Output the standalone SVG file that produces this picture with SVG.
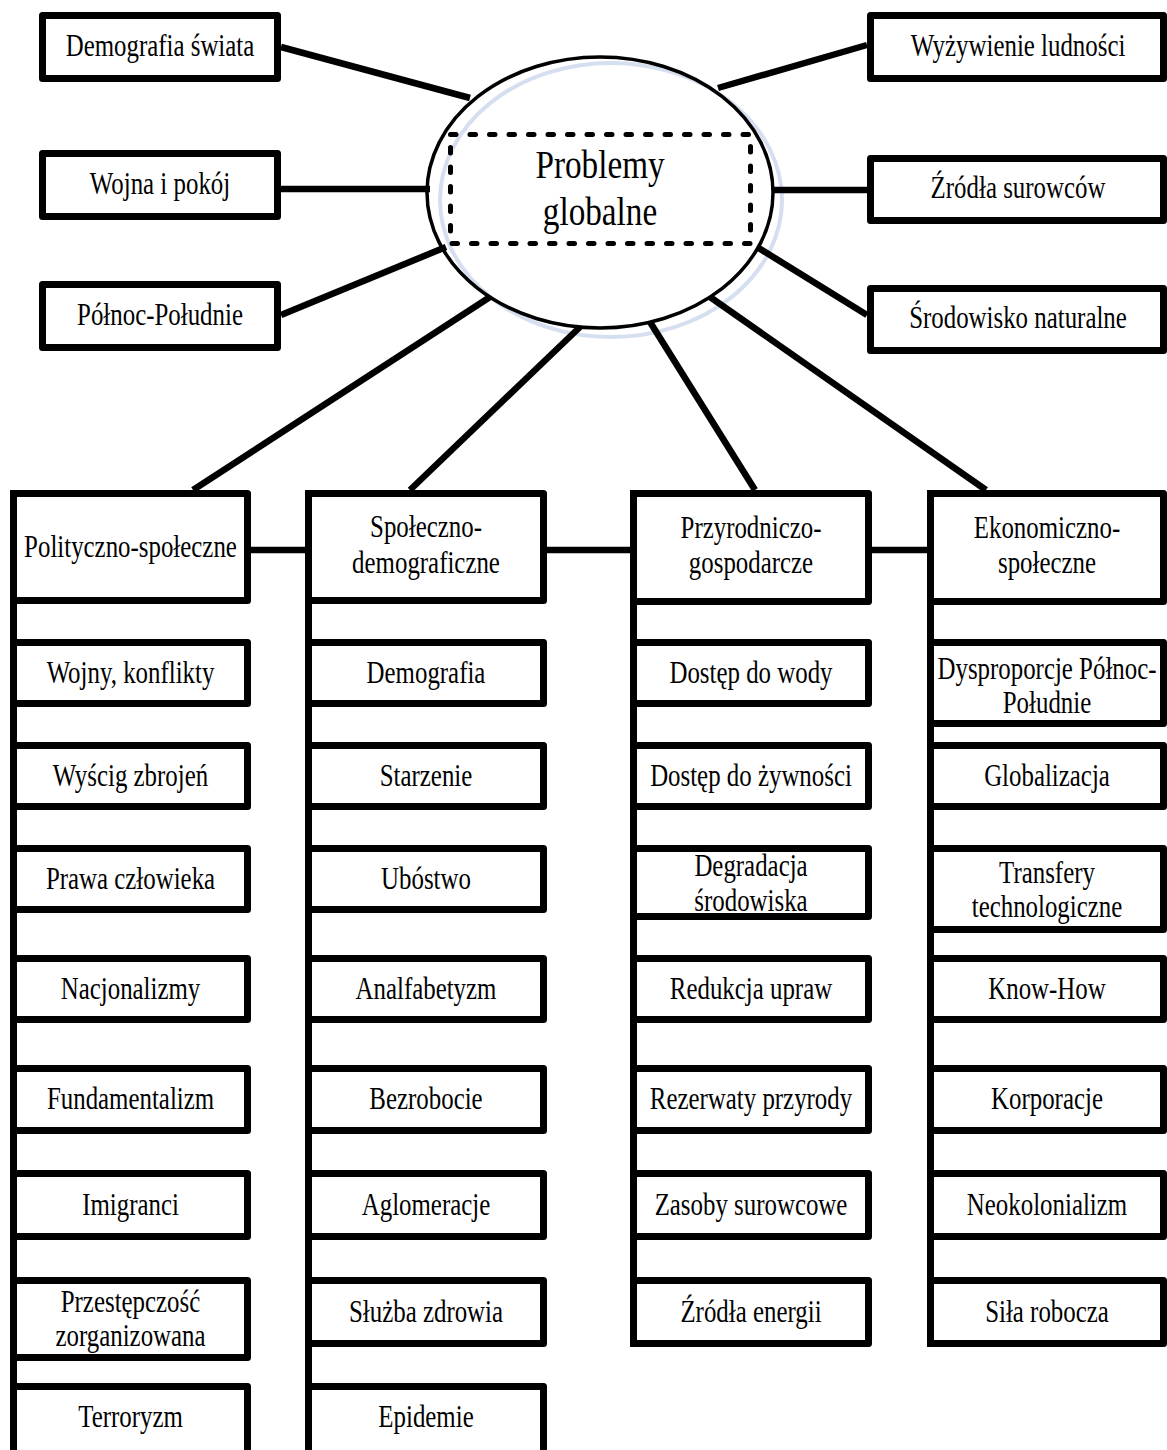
<svg xmlns="http://www.w3.org/2000/svg" width="1167" height="1450" viewBox="0 0 1167 1450">
<style>
.b{fill:#fff;stroke:#000;stroke-width:7;stroke-linejoin:round}
.t{font-family:"Liberation Serif","Times New Roman",serif;font-size:31.5px;fill:#000;text-anchor:middle}
.big{font-family:"Liberation Serif","Times New Roman",serif;font-size:41px;fill:#000;text-anchor:middle}
.c{stroke:#000;stroke-width:6.5;fill:none}
.sp{stroke:#000;stroke-width:7;fill:none}
</style>
<rect width="1167" height="1450" fill="#fff"/>
<ellipse cx="611" cy="200" rx="171" ry="137" fill="none" stroke="#d5dff0" stroke-width="4"/>
<g id="connectors">
<line class="c" x1="281" y1="47" x2="470" y2="98"/>
<line class="c" x1="281" y1="189" x2="430" y2="189"/>
<line class="c" x1="281" y1="315" x2="446" y2="247"/>
<line class="c" x1="867" y1="45" x2="718" y2="88"/>
<line class="c" x1="867" y1="190" x2="773" y2="190"/>
<line class="c" x1="867" y1="315" x2="757" y2="247"/>
<line class="c" x1="490" y1="297" x2="193" y2="490"/>
<line class="c" x1="580" y1="327" x2="410" y2="490"/>
<line class="c" x1="650" y1="322" x2="755" y2="490"/>
<line class="c" x1="710" y1="297" x2="986" y2="490"/>
<line class="c" x1="251" y1="550" x2="305" y2="550"/>
<line class="c" x1="547" y1="550" x2="630" y2="550"/>
<line class="c" x1="872" y1="550" x2="927" y2="550"/>
<line class="sp" x1="13.5" y1="490" x2="13.5" y2="1450"/>
<line class="sp" x1="308.5" y1="490" x2="308.5" y2="1450"/>
<line class="sp" x1="633.5" y1="490" x2="633.5" y2="1347"/>
<line class="sp" x1="930.5" y1="490" x2="930.5" y2="1347"/>
</g>
<g id="center">
<ellipse cx="600" cy="192.5" rx="173" ry="135.5" fill="none" stroke="#000" stroke-width="3.5"/>
<rect x="450.5" y="134.5" width="300" height="109" fill="none" stroke="#000" stroke-width="5" stroke-dasharray="5.5 14" stroke-linecap="round"/>
<text class="big" transform="translate(600,178) scale(0.81,1)">Problemy</text>
<text class="big" transform="translate(600,225) scale(0.81,1)">globalne</text>
</g>
<g id="demografia-swiata"><rect class="b" x="42.5" y="15.5" width="235" height="63"/><text class="t" transform="translate(160,56) scale(0.79,1)">Demografia świata</text></g>
<g id="wojna-i-pokoj"><rect class="b" x="42.5" y="153.5" width="235" height="63"/><text class="t" transform="translate(160,194) scale(0.79,1)">Wojna i pokój</text></g>
<g id="polnoc-poludnie"><rect class="b" x="42.5" y="284.5" width="235" height="63"/><text class="t" transform="translate(160,325) scale(0.79,1)">Północ-Południe</text></g>
<g id="wyzywienie"><rect class="b" x="870.5" y="15.5" width="293" height="63"/><text class="t" transform="translate(1018,56) scale(0.79,1)">Wyżywienie ludności</text></g>
<g id="zrodla-surowcow"><rect class="b" x="870.5" y="158.5" width="293" height="62"/><text class="t" transform="translate(1018,198) scale(0.79,1)">Źródła surowców</text></g>
<g id="srodowisko"><rect class="b" x="870.5" y="288.5" width="293" height="62"/><text class="t" transform="translate(1018,328) scale(0.79,1)">Środowisko naturalne</text></g>

<g id="h1"><rect class="b" x="13.5" y="493.5" width="234" height="107"/><text class="t" transform="translate(130.5,557) scale(0.79,1)">Polityczno-społeczne</text></g>
<g id="h2"><rect class="b" x="308.5" y="493.5" width="235" height="107"/><text class="t" transform="translate(426,537) scale(0.79,1)">Społeczno-</text><text class="t" transform="translate(426,573) scale(0.79,1)">demograficzne</text></g>
<g id="h3"><rect class="b" x="633.5" y="493.5" width="235" height="108"/><text class="t" transform="translate(751,538) scale(0.79,1)">Przyrodniczo-</text><text class="t" transform="translate(751,573) scale(0.79,1)">gospodarcze</text></g>
<g id="h4"><rect class="b" x="930.5" y="493.5" width="233" height="108"/><text class="t" transform="translate(1047,538) scale(0.79,1)">Ekonomiczno-</text><text class="t" transform="translate(1047,573) scale(0.79,1)">społeczne</text></g>

<g id="c1-1"><rect class="b" x="13.5" y="642.5" width="234" height="61"/><text class="t" transform="translate(130.5,683) scale(0.79,1)">Wojny, konflikty</text></g>
<g id="c1-2"><rect class="b" x="13.5" y="745.5" width="234" height="61"/><text class="t" transform="translate(130.5,786) scale(0.79,1)">Wyścig zbrojeń</text></g>
<g id="c1-3"><rect class="b" x="13.5" y="848.5" width="234" height="61"/><text class="t" transform="translate(130.5,889) scale(0.79,1)">Prawa człowieka</text></g>
<g id="c1-4"><rect class="b" x="13.5" y="958.5" width="234" height="61"/><text class="t" transform="translate(130.5,999) scale(0.79,1)">Nacjonalizmy</text></g>
<g id="c1-5"><rect class="b" x="13.5" y="1068.5" width="234" height="62"/><text class="t" transform="translate(130.5,1109) scale(0.79,1)">Fundamentalizm</text></g>
<g id="c1-6"><rect class="b" x="13.5" y="1173.5" width="234" height="63"/><text class="t" transform="translate(130.5,1215) scale(0.79,1)">Imigranci</text></g>
<g id="c1-7"><rect class="b" x="13.5" y="1280.5" width="234" height="77"/><text class="t" transform="translate(130.5,1312) scale(0.79,1)">Przestępczość</text><text class="t" transform="translate(130.5,1346) scale(0.79,1)">zorganizowana</text></g>
<g id="c1-8"><rect class="b" x="13.5" y="1386.5" width="234" height="75"/><text class="t" transform="translate(130.5,1427) scale(0.79,1)">Terroryzm</text></g>

<g id="c2-1"><rect class="b" x="308.5" y="642.5" width="235" height="61"/><text class="t" transform="translate(426,683) scale(0.79,1)">Demografia</text></g>
<g id="c2-2"><rect class="b" x="308.5" y="745.5" width="235" height="61"/><text class="t" transform="translate(426,786) scale(0.79,1)">Starzenie</text></g>
<g id="c2-3"><rect class="b" x="308.5" y="848.5" width="235" height="61"/><text class="t" transform="translate(426,889) scale(0.79,1)">Ubóstwo</text></g>
<g id="c2-4"><rect class="b" x="308.5" y="958.5" width="235" height="61"/><text class="t" transform="translate(426,999) scale(0.79,1)">Analfabetyzm</text></g>
<g id="c2-5"><rect class="b" x="308.5" y="1068.5" width="235" height="62"/><text class="t" transform="translate(426,1109) scale(0.79,1)">Bezrobocie</text></g>
<g id="c2-6"><rect class="b" x="308.5" y="1173.5" width="235" height="63"/><text class="t" transform="translate(426,1215) scale(0.79,1)">Aglomeracje</text></g>
<g id="c2-7"><rect class="b" x="308.5" y="1280.5" width="235" height="63"/><text class="t" transform="translate(426,1322) scale(0.79,1)">Służba zdrowia</text></g>
<g id="c2-8"><rect class="b" x="308.5" y="1386.5" width="235" height="75"/><text class="t" transform="translate(426,1427) scale(0.79,1)">Epidemie</text></g>

<g id="c3-1"><rect class="b" x="633.5" y="642.5" width="235" height="61"/><text class="t" transform="translate(751,683) scale(0.79,1)">Dostęp do wody</text></g>
<g id="c3-2"><rect class="b" x="633.5" y="745.5" width="235" height="61"/><text class="t" transform="translate(751,786) scale(0.79,1)">Dostęp do żywności</text></g>
<g id="c3-3"><rect class="b" x="633.5" y="848.5" width="235" height="68"/><text class="t" transform="translate(751,876) scale(0.79,1)">Degradacja</text><text class="t" transform="translate(751,911) scale(0.79,1)">środowiska</text></g>
<g id="c3-4"><rect class="b" x="633.5" y="958.5" width="235" height="61"/><text class="t" transform="translate(751,999) scale(0.79,1)">Redukcja upraw</text></g>
<g id="c3-5"><rect class="b" x="633.5" y="1068.5" width="235" height="62"/><text class="t" transform="translate(751,1109) scale(0.79,1)">Rezerwaty przyrody</text></g>
<g id="c3-6"><rect class="b" x="633.5" y="1173.5" width="235" height="63"/><text class="t" transform="translate(751,1215) scale(0.79,1)">Zasoby surowcowe</text></g>
<g id="c3-7"><rect class="b" x="633.5" y="1280.5" width="235" height="63"/><text class="t" transform="translate(751,1322) scale(0.79,1)">Źródła energii</text></g>

<g id="c4-1"><rect class="b" x="930.5" y="642.5" width="233" height="81"/><text class="t" transform="translate(1047,679) scale(0.79,1)">Dysproporcje Północ-</text><text class="t" transform="translate(1047,713) scale(0.79,1)">Południe</text></g>
<g id="c4-2"><rect class="b" x="930.5" y="745.5" width="233" height="61"/><text class="t" transform="translate(1047,786) scale(0.79,1)">Globalizacja</text></g>
<g id="c4-3"><rect class="b" x="930.5" y="848.5" width="233" height="81"/><text class="t" transform="translate(1047,883) scale(0.79,1)">Transfery</text><text class="t" transform="translate(1047,917) scale(0.79,1)">technologiczne</text></g>
<g id="c4-4"><rect class="b" x="930.5" y="958.5" width="233" height="61"/><text class="t" transform="translate(1047,999) scale(0.79,1)">Know-How</text></g>
<g id="c4-5"><rect class="b" x="930.5" y="1068.5" width="233" height="62"/><text class="t" transform="translate(1047,1109) scale(0.79,1)">Korporacje</text></g>
<g id="c4-6"><rect class="b" x="930.5" y="1173.5" width="233" height="63"/><text class="t" transform="translate(1047,1215) scale(0.79,1)">Neokolonializm</text></g>
<g id="c4-7"><rect class="b" x="930.5" y="1280.5" width="233" height="63"/><text class="t" transform="translate(1047,1322) scale(0.79,1)">Siła robocza</text></g>
</svg>
